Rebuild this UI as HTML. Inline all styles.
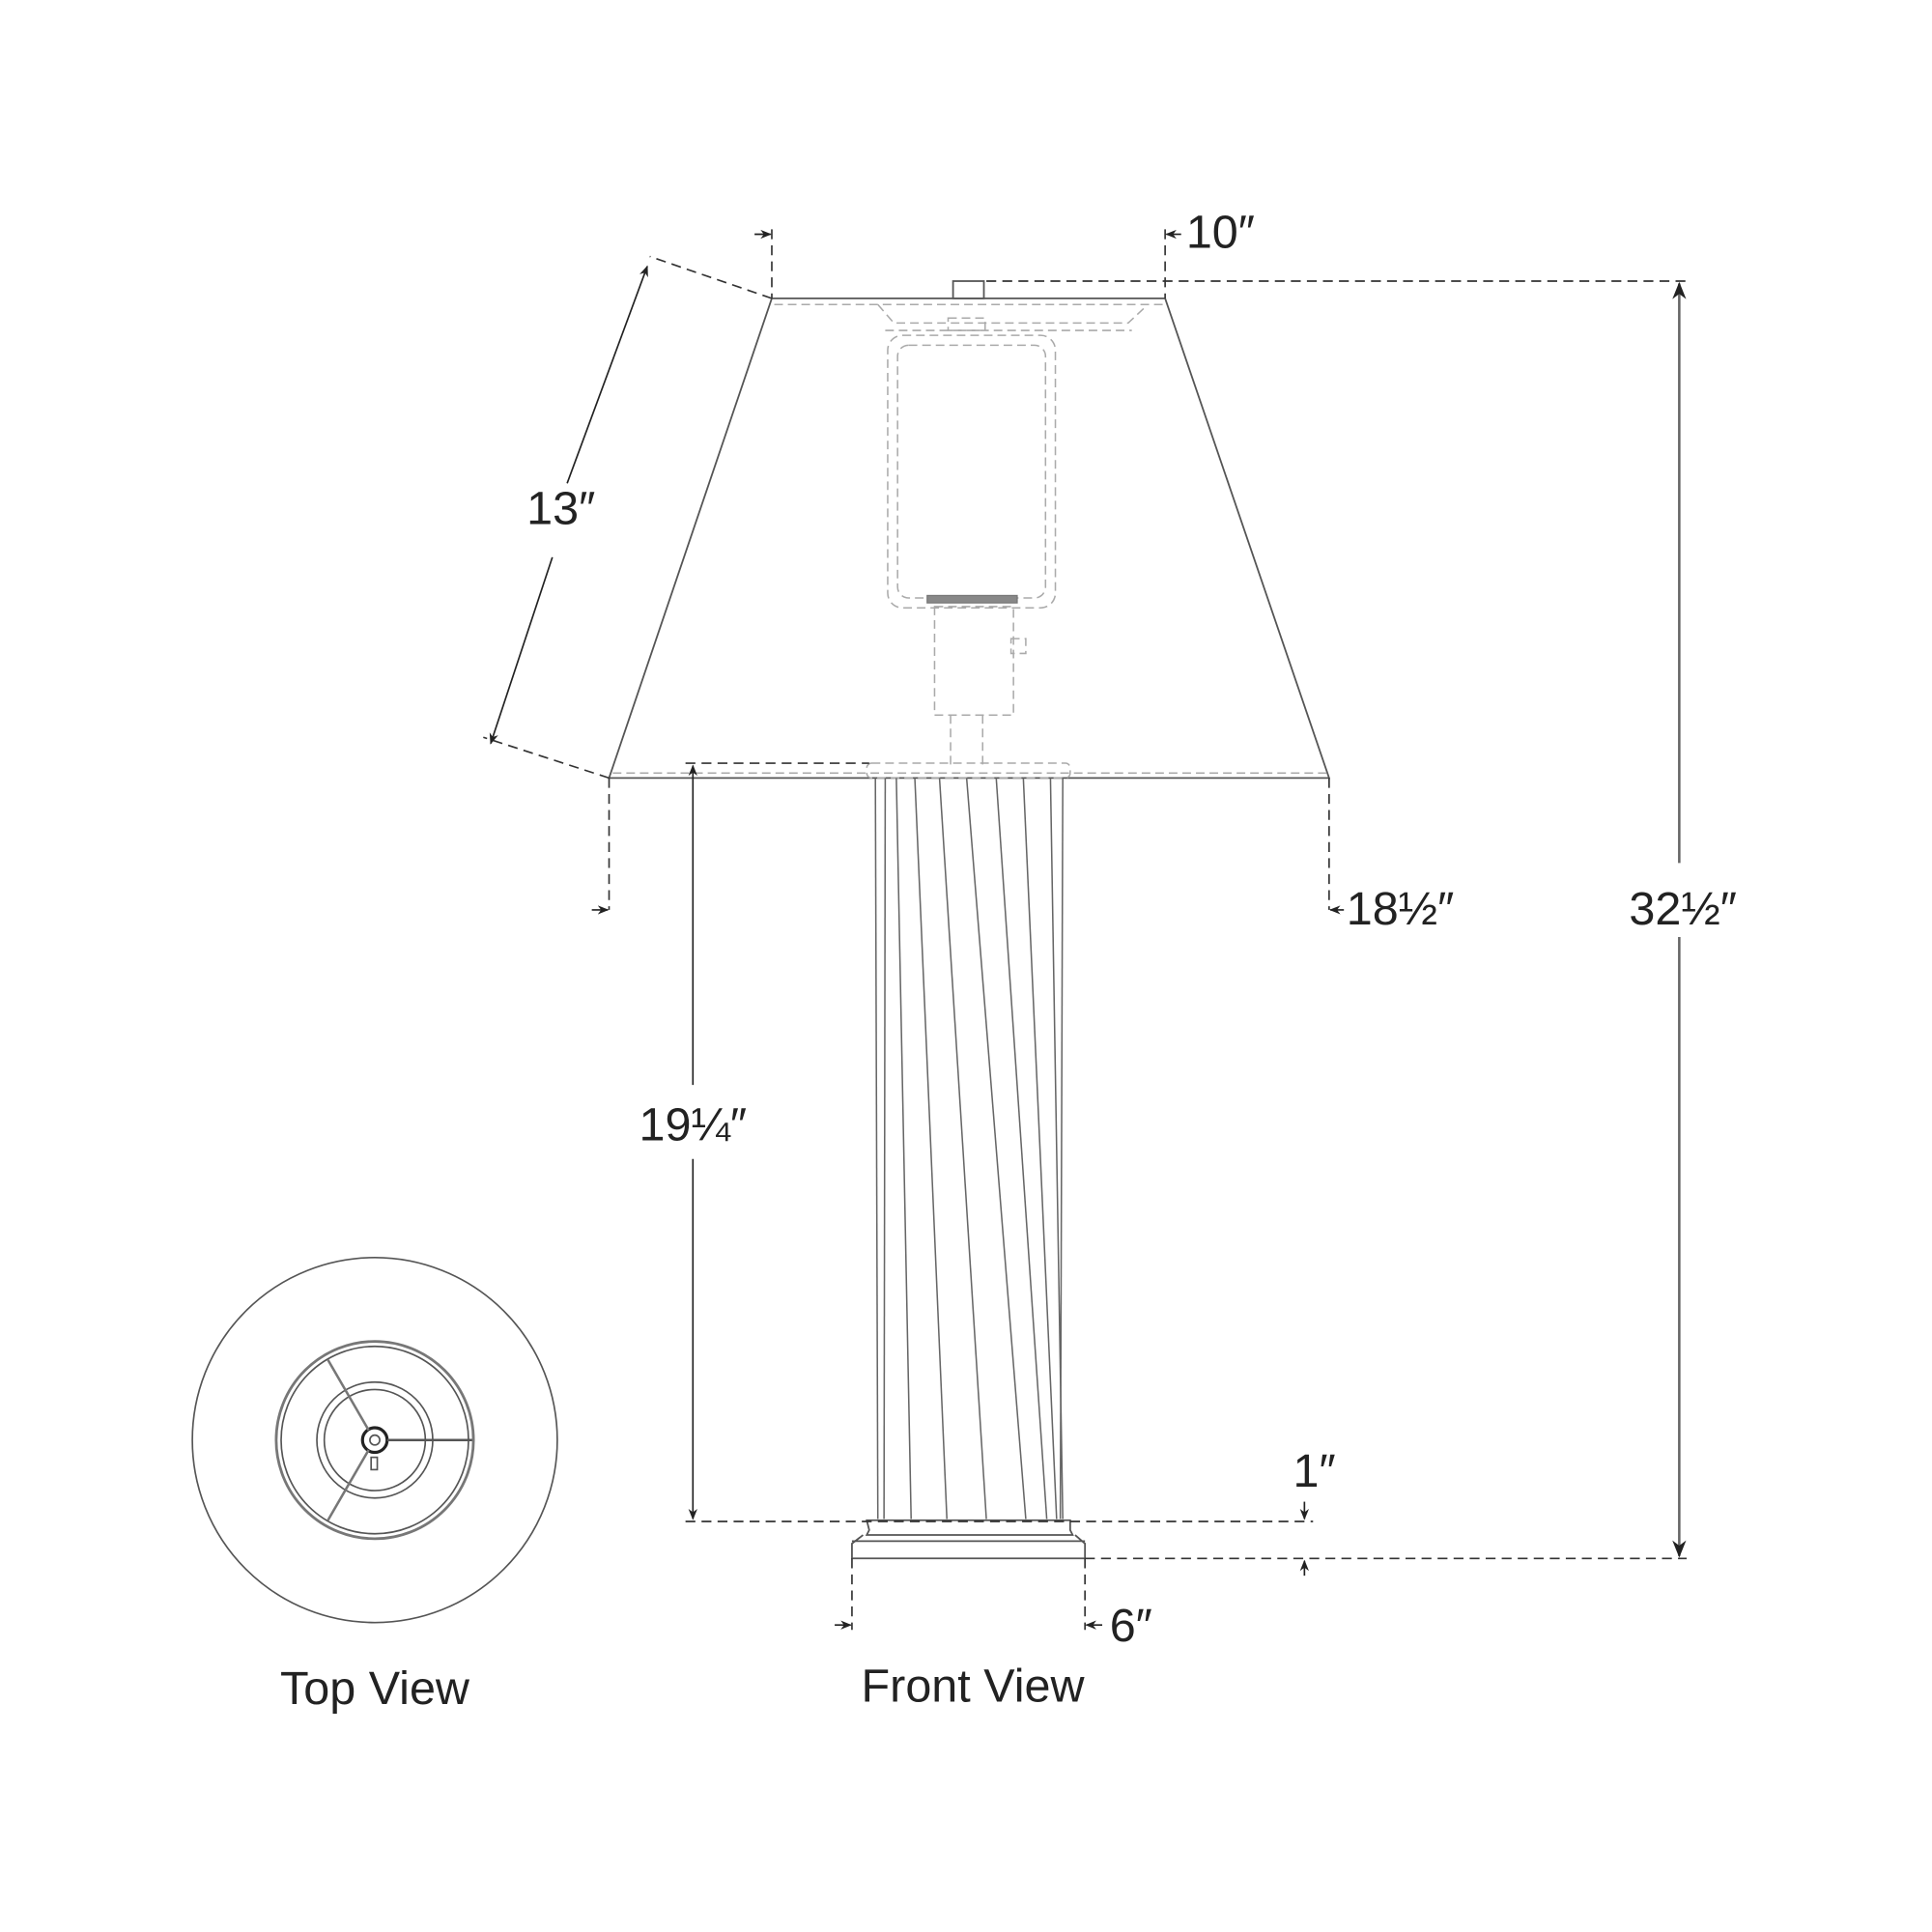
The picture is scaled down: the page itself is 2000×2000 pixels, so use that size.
<!DOCTYPE html>
<html><head><style>html,body{margin:0;padding:0;background:#fff}svg{display:block}</style></head>
<body>
<svg width="2000" height="2000" viewBox="0 0 1567 1567" xmlns="http://www.w3.org/2000/svg" font-family="Liberation Sans, sans-serif">
<defs>
<marker id="a" viewBox="0 0 10 10" refX="9" refY="5" markerWidth="7" markerHeight="7" orient="auto-start-reverse"><path d="M0,1 L10,5 L0,9 L3,5 Z" fill="#222"/></marker>
</defs>
<g fill="none" stroke="#333" stroke-width="1.4">
<path d="M626,242 L945,242 L1078,631 L494,631 Z" stroke="#555"/>
<g stroke="#aaa" stroke-dasharray="7,4" stroke-width="1.2">
<line x1="628" y1="247" x2="943" y2="247"/>
<line x1="497" y1="627" x2="1076" y2="627"/>
<path d="M712,247 L725,262 L915,262 L930,248"/>
<path d="M718,268 L918,268"/>
<rect x="720" y="272" width="136" height="221" rx="12"/>
<rect x="728" y="280" width="120" height="205" rx="9"/>
<rect x="769" y="258" width="30" height="10"/>
<rect x="758" y="492" width="64" height="88"/>
<rect x="820" y="518" width="12" height="12"/>
<line x1="771" y1="580" x2="771" y2="620"/>
<line x1="797" y1="580" x2="797" y2="620"/>
<rect x="703" y="619" width="165" height="12" rx="4"/>
</g>
<rect x="752" y="483" width="73" height="6" fill="#888" stroke="#777" stroke-width="1"/>
<rect x="773" y="228" width="25" height="14" stroke="#555"/>
<g stroke="#666" stroke-width="1.2">
<line x1="710" y1="631" x2="712" y2="1232"/>
<line x1="718" y1="631" x2="717" y2="1232"/>
<line x1="727" y1="631" x2="739" y2="1232"/>
<line x1="742" y1="631" x2="768" y2="1232"/>
<line x1="762" y1="631" x2="800" y2="1232"/>
<line x1="784" y1="631" x2="832" y2="1232"/>
<line x1="808" y1="631" x2="849" y2="1232"/>
<line x1="830" y1="631" x2="857" y2="1232"/>
<line x1="852" y1="631" x2="862" y2="1232"/>
<line x1="862" y1="631" x2="860" y2="1232"/>
</g>
<path d="M703,1233 L868,1233 L868,1241 L870,1245 L703,1245 L705,1241 Z" stroke="#555"/>
<path d="M700,1245 L691,1252 L691,1264 L880,1264 L880,1252 L872,1245" stroke="#555"/>
<line x1="691" y1="1250" x2="880" y2="1250" stroke="#555"/>
</g>
<g fill="none" stroke="#333" stroke-width="1.3" stroke-dasharray="8,5">
<line x1="626" y1="186" x2="626" y2="242"/>
<line x1="945" y1="186" x2="945" y2="242"/>
<line x1="800" y1="228" x2="1368" y2="228"/>
<line x1="626" y1="242" x2="527" y2="208"/>
<line x1="494" y1="631" x2="392" y2="598"/>
<line x1="494" y1="631" x2="494" y2="738"/>
<line x1="1078" y1="631" x2="1078" y2="738"/>
<line x1="556" y1="619" x2="705" y2="619"/>
<line x1="556" y1="1234" x2="1065" y2="1234"/>
<line x1="880" y1="1264" x2="1368" y2="1264"/>
<line x1="691" y1="1264" x2="691" y2="1322"/>
<line x1="880" y1="1264" x2="880" y2="1322"/>
</g>
<g fill="none" stroke="#222" stroke-width="1.3">
<line x1="460" y1="392" x2="525" y2="216" marker-end="url(#a)"/>
<line x1="448" y1="452" x2="398" y2="603" marker-end="url(#a)"/>
<line x1="612" y1="190" x2="625" y2="190" marker-end="url(#a)"/>
<line x1="958" y1="190" x2="946" y2="190" marker-end="url(#a)"/>
<line x1="480" y1="738" x2="493" y2="738" marker-end="url(#a)"/>
<line x1="1090" y1="738" x2="1079" y2="738" marker-end="url(#a)"/>
<line x1="677" y1="1318" x2="690" y2="1318" marker-end="url(#a)"/>
<line x1="894" y1="1318" x2="881" y2="1318" marker-end="url(#a)"/>
<line x1="562" y1="880" x2="562" y2="621" marker-end="url(#a)"/>
<line x1="562" y1="940" x2="562" y2="1232" marker-end="url(#a)"/>
<line x1="1362" y1="700" x2="1362" y2="230" marker-end="url(#a)" stroke="#666" stroke-width="2"/>
<line x1="1362" y1="760" x2="1362" y2="1262" marker-end="url(#a)" stroke="#666" stroke-width="2"/>
<line x1="1058" y1="1218" x2="1058" y2="1232" marker-end="url(#a)"/>
<line x1="1058" y1="1278" x2="1058" y2="1266" marker-end="url(#a)"/>
</g>
<g fill="none" stroke="#555" stroke-width="1.3">
<circle cx="304" cy="1168" r="148"/>
<circle cx="304" cy="1168" r="80" stroke-width="2.2" stroke="#777"/>
<circle cx="304" cy="1168" r="76"/>
<circle cx="304" cy="1168" r="47"/>
<circle cx="304" cy="1168" r="41"/>
<circle cx="304" cy="1168" r="10" stroke="#222" stroke-width="2.5"/>
<circle cx="304" cy="1168" r="4"/>
<line x1="314" y1="1168" x2="383" y2="1168" stroke-width="2"/>
<line x1="299" y1="1160" x2="266" y2="1103" stroke-width="2" stroke="#777"/>
<line x1="299" y1="1176" x2="266" y2="1233" stroke-width="2" stroke="#777"/>
<rect x="301" y="1182" width="5" height="10"/>
</g>
<g fill="#222" font-size="38">
<text x="455" y="425" text-anchor="middle">13″</text>
<text x="962" y="201">10″</text>
<text x="1092" y="750">18½″</text>
<text x="1365" y="750" text-anchor="middle">32½″</text>
<text x="562" y="925" text-anchor="middle">19¼″</text>
<text x="1066" y="1206" text-anchor="middle">1″</text>
<text x="900" y="1331">6″</text>
<text x="304" y="1382" text-anchor="middle">Top View</text>
<text x="789" y="1380" text-anchor="middle">Front View</text>
</g>
</svg>
</body></html>
